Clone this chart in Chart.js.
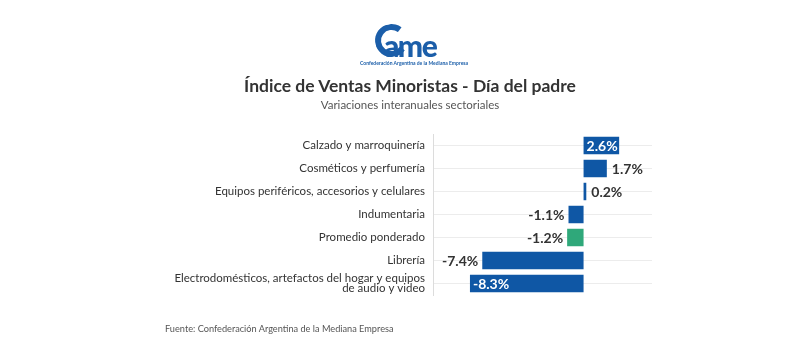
<!DOCTYPE html>
<html>
<head>
<meta charset="utf-8">
<script src="https://cdn.jsdelivr.net/npm/chart.js@4"></script>
<style>
  body { margin: 0; background: #fff; font-family: Lato, sans-serif; }
  #wrap { position: relative; width: 800px; height: 350px; overflow: hidden; }
  #chart { position: absolute; left: 0; top: 0; }
  .logo { position: absolute; left: 360px; top: 22px; width: 100px; height: 48px; }
  .ring { position: absolute; left: 15px; top: 2px; width: 21px; height: 21px;
          border: 6px solid #1b5ea9; border-right-color: transparent; border-radius: 50%; transform: rotate(-8deg); }
  .word { position: absolute; left: 24px; top: 5px; font: 900 30px Lato, sans-serif; color: #1b5ea9; letter-spacing: -1.5px; }
  .tag { position: absolute; left: 0; top: 38px; width: 100px; text-align: center; font: 700 5px Lato, sans-serif; color: #1b5ea9; white-space: nowrap; }
  .title { position: absolute; left: 0; width: 820px; top: 75px; text-align: center; font: 700 17.5px Lato, sans-serif; color: #333; }
  .sub { position: absolute; left: 0; width: 820px; top: 98px; text-align: center; font: 400 11.5px Lato, sans-serif; color: #555; }
  .foot { position: absolute; left: 165px; top: 323px; font: 400 9.2px Lato, sans-serif; color: #555; }
</style>
</head>
<body>
<div id="wrap">
  <canvas id="chart" width="800" height="350"></canvas>
  <div class="logo">
    <div class="ring"></div>
    <div class="word">ame</div>
    <div class="tag">Confederación Argentina de la Mediana Empresa</div>
  </div>
  <div class="title">Índice de Ventas Minoristas - Día del padre</div>
  <div class="sub">Variaciones interanuales sectoriales</div>
  <div class="foot">Fuente: Confederación Argentina de la Mediana Empresa</div>
</div>
<script>
// data
const categories = [
    'Calzado y marroquinería',
    'Cosméticos y perfumería',
    'Equipos periféricos, accesorios y celulares',
    'Indumentaria',
    'Promedio ponderado',
    'Librería',
    ['Electrodomésticos, artefactos del hogar y equipos', 'de audio y video']
];
const values = [2.6, 1.7, 0.2, -1.1, -1.2, -7.4, -8.3];
const highlightCategory = 'Promedio ponderado';

const blue = '#0f57a5';
const green = '#2fa87a';

const barColors = categories.map(c => c === highlightCategory ? green : blue);
const maxVal = Math.max(...values);
const minVal = Math.min(...values);

const fmt = v => v.toFixed(1) + '%';

// draws value labels next to / inside the bars
const valueLabels = {
    id: 'valueLabels',
    afterDatasetsDraw(chart) {
        const ctx = chart.ctx;
        const meta = chart.getDatasetMeta(0);
        ctx.save();
        ctx.font = '700 14px Lato, sans-serif';
        ctx.textBaseline = 'middle';
        meta.data.forEach((bar, i) => {
            const v = values[i];
            const left = Math.min(bar.x, bar.base);
            const right = Math.max(bar.x, bar.base);
            const inside = v === maxVal || v === minVal;
            if (inside) {
                ctx.fillStyle = '#fff';
                ctx.textAlign = 'left';
                ctx.fillText(fmt(v), left + 3, bar.y + 1);
            } else if (v >= 0) {
                ctx.fillStyle = '#333';
                ctx.textAlign = 'left';
                ctx.fillText(fmt(v), right + 5, bar.y + 1);
            } else {
                ctx.fillStyle = '#333';
                ctx.textAlign = 'right';
                ctx.fillText(fmt(v), left - 4, bar.y + 1);
            }
        });
        ctx.restore();
    }
};

new Chart(document.getElementById('chart'), {
    type: 'bar',
    data: {
        labels: categories,
        datasets: [{
            data: values,
            backgroundColor: barColors,
            barPercentage: 0.76,
            categoryPercentage: 1
        }]
    },
    options: {
        indexAxis: 'y',
        responsive: false,
        animation: false,
        layout: { padding: { left: 0, right: 148, top: 134, bottom: 55 } },
        scales: {
            x: {
                display: false,
                min: -11,
                max: 5
            },
            y: {
                afterFit: (scale) => { scale.width = 433; },
                grid: { offset: false, color: '#ececec', drawTicks: false },
                border: { color: '#dcdcdc' },
                ticks: {
                    autoSkip: false,
                    padding: 8,
                    color: '#333',
                    font: { family: 'Lato, sans-serif', size: 11.5, lineHeight: 0.9 }
                }
            }
        },
        plugins: {
            legend: { display: false },
            tooltip: { enabled: false }
        }
    },
    plugins: [valueLabels]
});
</script>
</body>
</html>
